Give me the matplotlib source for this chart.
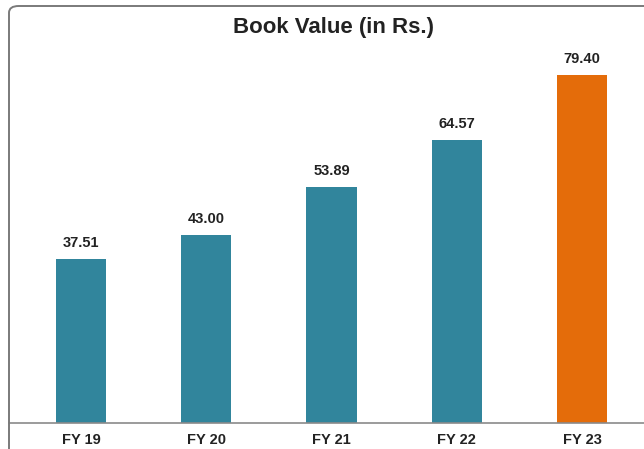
import matplotlib.pyplot as plt
from matplotlib.patches import FancyBboxPatch

years = ['FY 19', 'FY 20', 'FY 21', 'FY 22', 'FY 23']
book_value = [37.51, 43.00, 53.89, 64.57, 79.40]
bar_colors = ['#31859C', '#31859C', '#31859C', '#31859C', '#E46C0A']

plt.rcParams['font.family'] = ['Liberation Sans', 'DejaVu Sans']

fig = plt.figure(figsize=(6.44, 4.49), dpi=100)
W, H = 644, 449

# outer rounded frame (cropped at right and bottom like the screenshot)
frame = FancyBboxPatch((9 / W, -0.2), 1.2, (H - 6) / H + 0.2,
                       boxstyle='round,pad=0,rounding_size=0.015',
                       transform=fig.transFigure, fill=False,
                       edgecolor='#7a7a7a', linewidth=1.4)
fig.patches.append(frame)

ax = fig.add_axes([9 / W, (H - 423) / H, (W - 9) / W, 373 / H])
x = range(len(years))
bars = ax.bar(x, book_value, width=0.4, color=bar_colors)

for i, v in enumerate(book_value):
    ax.text(i, v + 2.0, f'{v:.2f}', ha='center', va='bottom',
            fontsize=10.5, fontweight='bold', color='#222222')

ax.set_xlim(-0.575, 4.495)
ax.set_ylim(0, 85.1)
ax.set_xticks(list(x))
ax.set_xticklabels(years, fontsize=10.5, fontweight='bold', color='#222222')
ax.tick_params(axis='x', length=0, pad=7)
ax.set_yticks([])
for s in ['top', 'right', 'left']:
    ax.spines[s].set_visible(False)
ax.spines['bottom'].set_color('#8a8a8a')
ax.spines['bottom'].set_linewidth(1.2)

fig.text(333.5 / W, (H - 28) / H, 'Book Value (in Rs.)', ha='center', va='center',
         fontsize=16, fontweight='bold', color='#222222')

fig.savefig('out.png', dpi=100)
